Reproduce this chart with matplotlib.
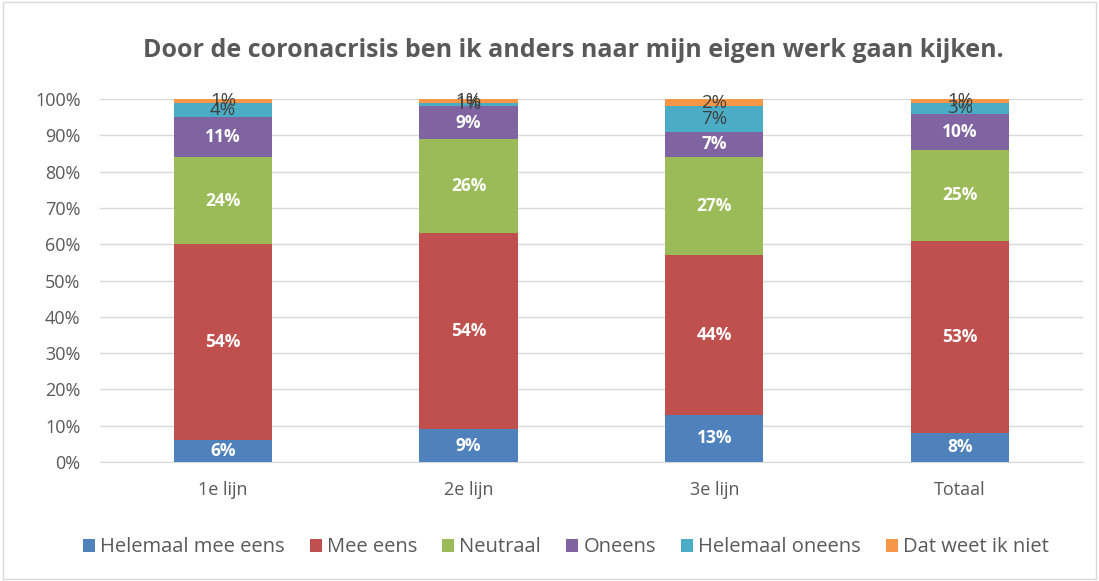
import matplotlib
matplotlib.use("Agg")
import matplotlib.pyplot as plt
from matplotlib.patches import Rectangle
import numpy as np

categories = ["1e lijn", "2e lijn", "3e lijn", "Totaal"]
series_names = ["Helemaal mee eens", "Mee eens", "Neutraal", "Oneens", "Helemaal oneens", "Dat weet ik niet"]
helemaal_mee_eens = [6, 9, 13, 8]
mee_eens = [54, 54, 44, 53]
neutraal = [24, 26, 27, 25]
oneens = [11, 9, 7, 10]
helemaal_oneens = [4, 1, 7, 3]
weet_niet = [1, 1, 2, 1]
colors = ["#4f81bd", "#c0504d", "#9bbb59", "#8064a2", "#4bacc6", "#f79646"]
label_colors = ["white", "white", "white", "white", "#404040", "#404040"]
label_bold = [True, True, True, True, False, False]

series = [helemaal_mee_eens, mee_eens, neutraal, oneens, helemaal_oneens, weet_niet]

plt.rcParams['font.family'] = ['Open Sans', 'DejaVu Sans']
fig = plt.figure(figsize=(10.99, 5.81), dpi=100)
ax = fig.add_axes([0.091, 0.2048, 0.8944, 0.6248])

x = np.arange(len(categories))
bottom = np.zeros(len(categories))
for vals, name, c, lc, lb in zip(series, series_names, colors, label_colors, label_bold):
    vals = np.array(vals, dtype=float)
    ax.bar(x, vals, width=0.4, bottom=bottom, color=c, label=name, zorder=3)
    for xi, v, b in zip(x, vals, bottom):
        ax.text(xi, b + v / 2, f"{int(v)}%", ha="center", va="center",
                color=lc, fontsize=12.5 if lb else 13.5,
                fontweight="bold" if lb else "normal", zorder=4)
    bottom += vals

ax.set_xlim(-0.5, len(categories) - 0.5)
ax.set_ylim(0, 100)
ax.set_yticks(np.arange(0, 101, 10))
ax.set_yticklabels([f"{t}%" for t in range(0, 101, 10)])
ax.set_xticks(x)
ax.set_xticklabels(categories)
ax.tick_params(axis="both", length=0, labelsize=13, colors="#595959")
ax.tick_params(axis="x", pad=14)
ax.tick_params(axis="y", pad=14)
ax.grid(axis="y", color="#d9d9d9", linewidth=1, zorder=0)
for s in ["top", "right", "left"]:
    ax.spines[s].set_visible(False)
ax.spines["bottom"].set_color("#d9d9d9")

fig.suptitle("Door de coronacrisis ben ik anders naar mijn eigen werk gaan kijken.",
             x=0.522, y=0.935, fontsize=18, fontweight="bold", color="#595959")

ax.legend(loc="center", bbox_to_anchor=(0.474, -0.235), ncol=6, frameon=False,
          fontsize=14.5, handlelength=0.6, handleheight=0.6, handletextpad=0.25,
          columnspacing=1.25, labelcolor="#595959")

fig.patches.append(Rectangle((0.003, 0.004), 0.994, 0.992, transform=fig.transFigure,
                             fill=False, edgecolor="#d9d9d9", linewidth=1))

fig.savefig("out.png", dpi=100)
